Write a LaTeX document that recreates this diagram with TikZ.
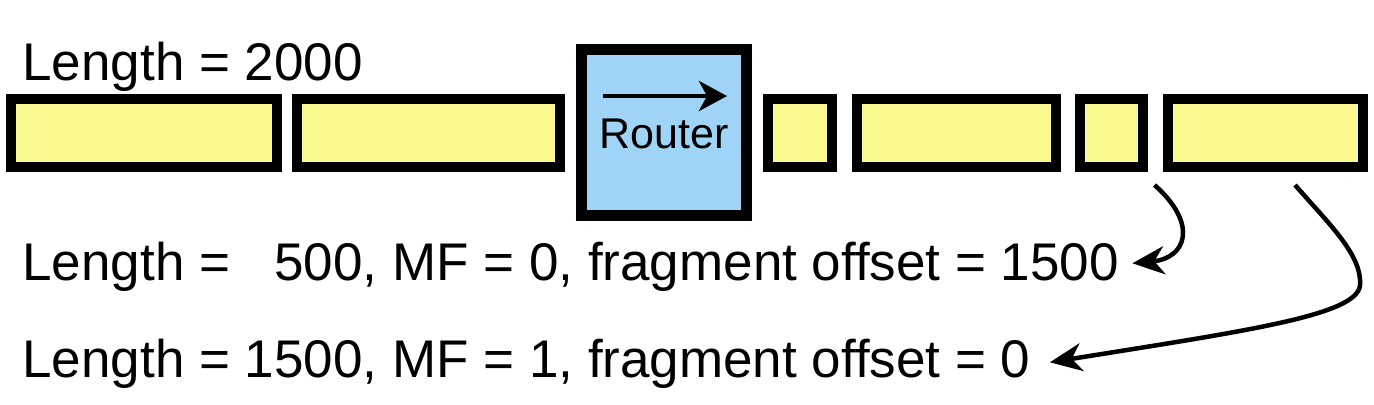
\documentclass[tikz,border=0pt]{standalone}
\usepackage{fontspec}
\setmainfont{Liberation Sans}
\usepackage{tikz}
\usetikzlibrary{arrows.meta,positioning}

\definecolor{fragyellow}{RGB}{250,249,143}
\definecolor{routerblue}{RGB}{160,212,246}

\begin{document}
\begin{tikzpicture}[x=0.5pt,y=-0.5pt,
        fragment/.style={draw=black, fill=fragyellow, line width=5pt,
            inner sep=0, outer sep=0, minimum height=34pt},
        router/.style={draw=black, fill=routerblue, line width=5.5pt,
            inner sep=0, outer sep=0, minimum width=82.5pt, minimum height=83pt},
        caption/.style={inner sep=0, anchor=base west,
            font=\fontsize{26.5}{30}\selectfont},
        fragarrow/.style={line width=2.25pt,
            -{Stealth[length=16pt,width=14pt,inset=5pt]}}]
    \useasboundingbox (0,0) rectangle (1374,404);
    % packet before the router
    \node [fragment, minimum width=133pt] (pkta) at (144,133) {};
    \node [fragment, minimum width=131.5pt] (pktb) at (428.5,133) {};
    % router
    \node [router] (router) at (664,132.5) {};
    \node [anchor=base, inner sep=0, font=\fontsize{21.5}{24}\selectfont] (routerlabel) at (664,148) {Router};
    \coordinate (flowin) at ([shift={(21.5,46.5)}]router.north west);
    \coordinate (flowout) at ([shift={(145.5,46.5)}]router.north west);
    \draw [line width=2.25pt, -{Stealth[length=14pt,width=15pt,inset=4pt]}] (flowin) -- (flowout);
    % fragments after the router
    \node [fragment, minimum width=32pt] (fraga) at (800,133) {};
    \node [fragment, minimum width=99.5pt] (fragb) at (956.5,133) {};
    \node [fragment, minimum width=31.5pt] (fragc) at (1111.5,133) {};
    \node [fragment, minimum width=97.5pt] (fragd) at (1265.5,133) {};
    % texts
    \node [caption] (total) at (22,80) {Length = 2000};
    \node [caption] (small) at (22,280) {Length = \phantom{1}500, MF = 0, fragment offset = 1500};
    \node [caption] (large) at (22,377) {Length = 1500, MF = 1, fragment offset = 0};
    \draw [fragarrow] ([shift={(11.5,18)}]fragc.south east)
        .. controls +(45,40) and +(53,-5) .. ([shift={(13,-3)}]small.east);
    \draw [fragarrow] ([shift={(29.5,18)}]fragd.south)
        .. controls +(35,40) and +(2,-30) .. (1360,285)
        .. controls +(-2,30) and +(200,-32) .. ([shift={(19,-1)}]large.east);
\end{tikzpicture}
\end{document}
